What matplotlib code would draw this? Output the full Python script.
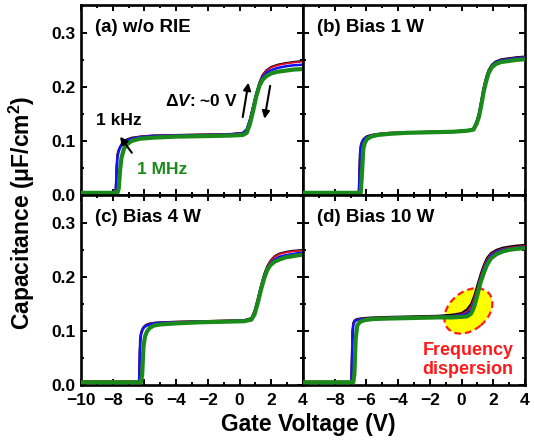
import matplotlib
matplotlib.use("Agg")
import matplotlib.pyplot as plt
from matplotlib.patches import Ellipse
from matplotlib.transforms import ScaledTranslation
from matplotlib.ticker import MultipleLocator

plt.rcParams['font.family'] = ['Liberation Sans', 'DejaVu Sans']
plt.rcParams['font.weight'] = 'bold'
plt.rcParams['mathtext.fontset'] = 'custom'
plt.rcParams['mathtext.rm'] = 'Liberation Sans:bold'
plt.rcParams['mathtext.bf'] = 'Liberation Sans:bold'
plt.rcParams['mathtext.it'] = 'Liberation Sans:italic:bold'

# ---------------- data ----------------
panel_titles = ["(a) w/o RIE", "(b) Bias 1 W", "(c) Bias 4 W", "(d) Bias 10 W"]
freq_labels = ["1 kHz", "10 kHz", "100 kHz", "1 MHz"]
x_ticks = [-10, -8, -6, -4, -2, 0, 2, 4]
y_ticks = [0.0, 0.1, 0.2, 0.3]

Va = [-10.0, -7.82, -7.76, -7.70, -7.62, -7.54, -7.45, -7.3, -7.1, -6.8, -6.3, -5.5, -4.0, -2.0,
      -0.5, 0.2, 0.45, 0.65, 0.85, 1.05, 1.25, 1.45, 1.7, 2.0, 2.4, 2.9, 3.4, 4.0]
Ca_1k = [0.004, 0.004, 0.055, 0.076, 0.084, 0.089, 0.094, 0.099, 0.103, 0.106, 0.108, 0.110, 0.111, 0.112,
         0.113, 0.115, 0.122, 0.140, 0.164, 0.188, 0.208, 0.222, 0.231, 0.237, 0.241, 0.244, 0.246, 0.248]
Ca_10k = [0.005, 0.005, 0.045, 0.074, 0.083, 0.088, 0.093, 0.098, 0.102, 0.105, 0.108, 0.110, 0.111, 0.112,
          0.113, 0.115, 0.121, 0.139, 0.163, 0.187, 0.207, 0.221, 0.230, 0.236, 0.240, 0.243, 0.245, 0.247]
Ca_100k = [0.004, 0.004, 0.030, 0.070, 0.081, 0.087, 0.092, 0.097, 0.101, 0.104, 0.107, 0.109, 0.110, 0.111,
           0.112, 0.114, 0.120, 0.138, 0.162, 0.186, 0.205, 0.218, 0.226, 0.231, 0.235, 0.238, 0.240, 0.241]
Ca_1M = [0.004, 0.004, 0.004, 0.004, 0.012, 0.045, 0.068, 0.085, 0.094, 0.100, 0.104, 0.106, 0.108, 0.109,
         0.110, 0.111, 0.115, 0.131, 0.155, 0.182, 0.202, 0.213, 0.220, 0.225, 0.228, 0.230, 0.232, 0.233]

Vb = [-10.0, -6.48, -6.42, -6.36, -6.28, -6.2, -6.1, -5.95, -5.7, -5.3, -4.6, -3.5, -2.0, -0.5,
      0.4, 0.75, 0.95, 1.1, 1.25, 1.4, 1.55, 1.7, 1.9, 2.15, 2.5, 3.0, 3.5, 4.0]
Cb_1k = [0.004, 0.004, 0.075, 0.092, 0.099, 0.103, 0.106, 0.109, 0.111, 0.113, 0.115, 0.116, 0.117, 0.118,
         0.120, 0.123, 0.137, 0.152, 0.176, 0.200, 0.218, 0.231, 0.241, 0.247, 0.251, 0.253, 0.255, 0.256]
Cb_10k = [0.005, 0.005, 0.065, 0.090, 0.098, 0.102, 0.105, 0.108, 0.111, 0.113, 0.115, 0.116, 0.117, 0.118,
          0.120, 0.122, 0.136, 0.151, 0.175, 0.199, 0.217, 0.230, 0.240, 0.246, 0.250, 0.252, 0.254, 0.255]
Cb_100k = [0.004, 0.004, 0.050, 0.086, 0.096, 0.101, 0.104, 0.107, 0.110, 0.112, 0.114, 0.115, 0.116, 0.117,
           0.119, 0.122, 0.135, 0.150, 0.173, 0.197, 0.215, 0.228, 0.239, 0.245, 0.249, 0.251, 0.253, 0.254]
Cb_1M = [0.004, 0.004, 0.004, 0.004, 0.040, 0.085, 0.097, 0.104, 0.108, 0.111, 0.113, 0.115, 0.116, 0.117,
         0.119, 0.121, 0.132, 0.145, 0.167, 0.192, 0.210, 0.225, 0.236, 0.242, 0.246, 0.248, 0.250, 0.251]

Vc = [-10.0, -6.34, -6.28, -6.22, -6.14, -6.06, -5.96, -5.84, -5.65, -5.4, -5.0, -4.0, -2.5, -1.0,
      0.3, 0.75, 0.95, 1.15, 1.35, 1.55, 1.75, 1.95, 2.2, 2.5, 2.9, 3.3, 3.7, 4.0]
Cc_1k = [0.006, 0.006, 0.085, 0.097, 0.103, 0.107, 0.110, 0.112, 0.114, 0.115, 0.116, 0.117, 0.118, 0.119,
         0.120, 0.124, 0.138, 0.160, 0.184, 0.205, 0.220, 0.230, 0.238, 0.243, 0.246, 0.248, 0.249, 0.250]
Cc_10k = [0.007, 0.007, 0.078, 0.095, 0.102, 0.106, 0.109, 0.111, 0.113, 0.115, 0.116, 0.117, 0.118, 0.119,
          0.120, 0.123, 0.137, 0.159, 0.183, 0.204, 0.219, 0.229, 0.237, 0.242, 0.245, 0.247, 0.248, 0.249]
Cc_100k = [0.005, 0.005, 0.065, 0.092, 0.100, 0.105, 0.108, 0.110, 0.112, 0.114, 0.115, 0.116, 0.117, 0.118,
           0.119, 0.122, 0.135, 0.156, 0.180, 0.201, 0.216, 0.225, 0.232, 0.237, 0.240, 0.242, 0.244, 0.245]
Cc_1M = [0.005, 0.005, 0.005, 0.005, 0.020, 0.071, 0.090, 0.099, 0.106, 0.110, 0.112, 0.114, 0.116, 0.117,
         0.118, 0.121, 0.131, 0.152, 0.176, 0.197, 0.213, 0.222, 0.228, 0.232, 0.236, 0.238, 0.240, 0.241]

Vd = [-10.0, -6.95, -6.89, -6.83, -6.76, -6.68, -6.58, -6.4, -6.1, -5.6, -4.5, -3.0, -1.5, -0.6,
      0.0, 0.35, 0.6, 0.8, 1.0, 1.2, 1.4, 1.6, 1.85, 2.2, 2.6, 3.0, 3.5, 4.0]
Cd_1k = [0.006, 0.006, 0.100, 0.115, 0.119, 0.121, 0.122, 0.123, 0.124, 0.125, 0.126, 0.127, 0.128, 0.130,
         0.133, 0.140, 0.150, 0.165, 0.185, 0.205, 0.222, 0.235, 0.244, 0.250, 0.254, 0.256, 0.258, 0.259]
Cd_10k = [0.006, 0.006, 0.090, 0.113, 0.118, 0.120, 0.121, 0.122, 0.123, 0.124, 0.125, 0.126, 0.127, 0.128,
          0.131, 0.136, 0.145, 0.160, 0.180, 0.201, 0.219, 0.232, 0.242, 0.248, 0.252, 0.254, 0.256, 0.257]
Cd_100k = [0.005, 0.005, 0.070, 0.110, 0.116, 0.119, 0.120, 0.121, 0.122, 0.123, 0.124, 0.125, 0.126, 0.127,
           0.129, 0.132, 0.139, 0.153, 0.174, 0.196, 0.214, 0.228, 0.239, 0.246, 0.250, 0.252, 0.254, 0.255]
Cd_1M = [0.005, 0.005, 0.005, 0.005, 0.020, 0.085, 0.110, 0.117, 0.120, 0.122, 0.123, 0.124, 0.125, 0.125,
         0.126, 0.127, 0.132, 0.145, 0.167, 0.190, 0.207, 0.222, 0.234, 0.242, 0.247, 0.250, 0.252, 0.253]

panels = [
    (Va, [Ca_1k, Ca_10k, Ca_100k, Ca_1M]),
    (Vb, [Cb_1k, Cb_10k, Cb_100k, Cb_1M]),
    (Vc, [Cc_1k, Cc_10k, Cc_100k, Cc_1M]),
    (Vd, [Cd_1k, Cd_10k, Cd_100k, Cd_1M]),
]

# ---------------- style ----------------
colors = ["#000000", "#e0102a", "#1010ff", "#1a8a1a"]
widths = [1.5, 1.3, 1.8, 3.0]
GREEN = "#1a8a1a"

fig = plt.figure(figsize=(5.34, 4.43), dpi=100)
W = 222 / 534
H = 190.3 / 443
lefts = [81 / 534, 303 / 534]
bottoms = [(443 - 195) / 443, (443 - 385) / 443]

axes = []
for i in range(4):
    r, c = divmod(i, 2)
    ax = fig.add_axes([lefts[c], bottoms[r], W, H])
    axes.append(ax)
    V, curves = panels[i]
    for C, col, lw, lab in zip(curves, colors, widths, freq_labels):
        ax.plot(V, C, color=col, lw=lw, label=lab, zorder=3, solid_joinstyle='round')
    ax.set_xlim(-10, 4)
    ax.set_ylim(0, 0.352)
    ax.xaxis.set_major_locator(MultipleLocator(2))
    ax.xaxis.set_minor_locator(MultipleLocator(1))
    ax.yaxis.set_major_locator(MultipleLocator(0.1))
    ax.yaxis.set_minor_locator(MultipleLocator(0.05))
    ax.tick_params(which='both', direction='in', top=True, right=True, width=1.4, labelsize=12.5)
    ax.tick_params(which='major', length=4)
    ax.tick_params(which='minor', length=2.5)
    ax.tick_params(axis='x', pad=6)
    ax.tick_params(axis='y', pad=4)
    for s in ax.spines.values():
        s.set_linewidth(1.9)
    ax.set_yticks(y_ticks)
    ax.set_yticklabels([f"{v:.1f}" for v in y_ticks])
    if c == 1:
        ax.tick_params(labelleft=False)
    if r == 0:
        ax.tick_params(labelbottom=False)
    else:
        ax.set_xticks(x_ticks)
        labs = [("\u2212" + str(-t)) if t < 0 else str(t) for t in x_ticks]
        if c == 1:
            labs[0] = ""
        ax.set_xticklabels(labs)
    ax.text(0.063, 0.88, panel_titles[i], transform=ax.transAxes, fontsize=13.5,
            fontweight='bold', ha='left', va='center')

# annotations in panel (a)
axa = axes[0]
axa.text(-7.6, 0.137, "1 kHz", fontsize=12.5, ha='center', va='center', color='k')
axa.text(-4.9, 0.048, "1 MHz", fontsize=12.5, ha='center', va='center', color=GREEN)
axa.annotate("", xy=(-7.64, 0.112), xytext=(-6.69, 0.074),
             arrowprops=dict(arrowstyle='-|>', color='k', lw=1.5, mutation_scale=11), zorder=5)
axa.text(-0.1, 0.174, r"$\mathit{\Delta V}$: ~0 V", fontsize=12.5, ha='right', va='center')
axa.annotate("", xy=(0.59, 0.213), xytext=(0.17, 0.139),
             arrowprops=dict(arrowstyle='-|>', color='k', lw=1.5, mutation_scale=11), zorder=5)
axa.annotate("", xy=(1.54, 0.136), xytext=(1.96, 0.207),
             arrowprops=dict(arrowstyle='-|>', color='k', lw=1.5, mutation_scale=11), zorder=5)

# dispersion highlight in panel (d)
axd = axes[3]
trans = fig.dpi_scale_trans + ScaledTranslation(0.43, 0.137, axd.transData)
ell = Ellipse((0, 0), 0.54, 0.38, angle=40, transform=trans, facecolor='#ffff00',
              edgecolor='#ff1a1a', lw=1.6, ls=(0, (3, 1.8)), zorder=2)
axd.add_patch(ell)
axd.text(0.4, 0.046, "Frequency\ndispersion", color='#ff1a1a', fontsize=13, ha='center',
         va='center', linespacing=1.15)

fig.text(0.041, 0.519, "Capacitance (\u03bcF/cm$^{2}$)", rotation=90, fontsize=16.5,
         ha='center', va='center')
fig.text(0.577, 0.041, "Gate Voltage (V)", fontsize=16.5, ha='center', va='center')

fig.savefig("out.png", dpi=100)
